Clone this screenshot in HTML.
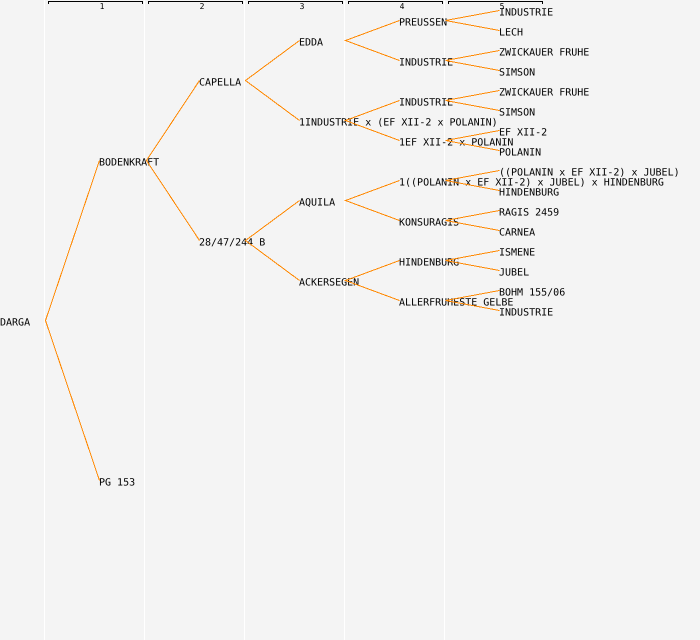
<!DOCTYPE html>
<html><head><meta charset="utf-8"><style>
html,body{margin:0;padding:0;background:#f4f4f4}
svg{display:block}
text{font-family:"DejaVu Sans Mono","Liberation Mono",monospace;font-size:10px;fill:#000;text-rendering:geometricPrecision}
.n{font-size:8px;text-anchor:middle}
.s{stroke:#fff;stroke-width:1;shape-rendering:crispEdges}
.b{fill:none;stroke:#000;stroke-width:1;shape-rendering:crispEdges}
.l{stroke:#ff8800;stroke-width:1;fill:none;shape-rendering:crispEdges}
</style></head><body>
<svg width="700" height="640" viewBox="0 0 700 640" xmlns="http://www.w3.org/2000/svg">
<rect width="700" height="640" fill="#f4f4f4"/>
<path class="s" d="M44.5 0V640M144.5 0V640M244.5 0V640M344.5 0V640M444.5 0V640"/>
<path class="b" d="M48.5 4V1.5H142.5V4M148.5 4V1.5H242.5V4M248.5 4V1.5H342.5V4M348.5 4V1.5H442.5V4M448.5 4V1.5H542.5V4"/>
<text class="n" x="102" y="9">1</text>
<text class="n" x="202" y="9">2</text>
<text class="n" x="302" y="9">3</text>
<text class="n" x="402" y="9">4</text>
<text class="n" x="502" y="9">5</text>
<g>
<text x="0" y="325.5">DARGA</text>
<text x="99" y="165.5">BODENKRAFT</text>
<text x="99" y="485.5">PG 153</text>
<text x="199" y="85.5">CAPELLA</text>
<text x="199" y="245.5">28/47/244 B</text>
<text x="299" y="45.5">EDDA</text>
<text x="299" y="125.5">1INDUSTRIE x (EF XII-2 x POLANIN)</text>
<text x="299" y="205.5">AQUILA</text>
<text x="299" y="285.5">ACKERSEGEN</text>
<text x="399" y="25.5">PREUSSEN</text>
<text x="399" y="65.5">INDUSTRIE</text>
<text x="399" y="105.5">INDUSTRIE</text>
<text x="399" y="145.5">1EF XII-2 x POLANIN</text>
<text x="399" y="185.5">1((POLANIN x EF XII-2) x JUBEL) x HINDENBURG</text>
<text x="399" y="225.5">KONSURAGIS</text>
<text x="399" y="265.5">HINDENBURG</text>
<text x="399" y="305.5">ALLERFRUHESTE GELBE</text>
<text x="499" y="15.5">INDUSTRIE</text>
<text x="499" y="35.5">LECH</text>
<text x="499" y="55.5">ZWICKAUER FRUHE</text>
<text x="499" y="75.5">SIMSON</text>
<text x="499" y="95.5">ZWICKAUER FRUHE</text>
<text x="499" y="115.5">SIMSON</text>
<text x="499" y="135.5">EF XII-2</text>
<text x="499" y="155.5">POLANIN</text>
<text x="499" y="175.5">((POLANIN x EF XII-2) x JUBEL)</text>
<text x="499" y="195.5">HINDENBURG</text>
<text x="499" y="215.5">RAGIS 2459</text>
<text x="499" y="235.5">CARNEA</text>
<text x="499" y="255.5">ISMENE</text>
<text x="499" y="275.5">JUBEL</text>
<text x="499" y="295.5">BOHM 155/06</text>
<text x="499" y="315.5">INDUSTRIE</text>
</g>
<path class="l" d="M99.5 160.5L45.5 320.5L99.5 480.5"/>
<path class="l" d="M199.5 80.5L146.5 160.5L199.5 240.5"/>
<path class="l" d="M299.5 40.5L245.5 80.5L299.5 120.5"/>
<path class="l" d="M299.5 200.5L245.5 240.5L299.5 280.5"/>
<path class="l" d="M399.5 20.5L345.5 40.5L399.5 60.5"/>
<path class="l" d="M399.5 100.5L345.5 120.5L399.5 140.5"/>
<path class="l" d="M399.5 180.5L345.5 200.5L399.5 220.5"/>
<path class="l" d="M399.5 260.5L345.5 280.5L399.5 300.5"/>
<path class="l" d="M499.5 10.5L445.5 20.5L499.5 30.5"/>
<path class="l" d="M499.5 50.5L445.5 60.5L499.5 70.5"/>
<path class="l" d="M499.5 90.5L445.5 100.5L499.5 110.5"/>
<path class="l" d="M499.5 130.5L445.5 140.5L499.5 150.5"/>
<path class="l" d="M499.5 170.5L445.5 180.5L499.5 190.5"/>
<path class="l" d="M499.5 210.5L445.5 220.5L499.5 230.5"/>
<path class="l" d="M499.5 250.5L445.5 260.5L499.5 270.5"/>
<path class="l" d="M499.5 290.5L445.5 300.5L499.5 310.5"/>
</svg>
</body></html>
